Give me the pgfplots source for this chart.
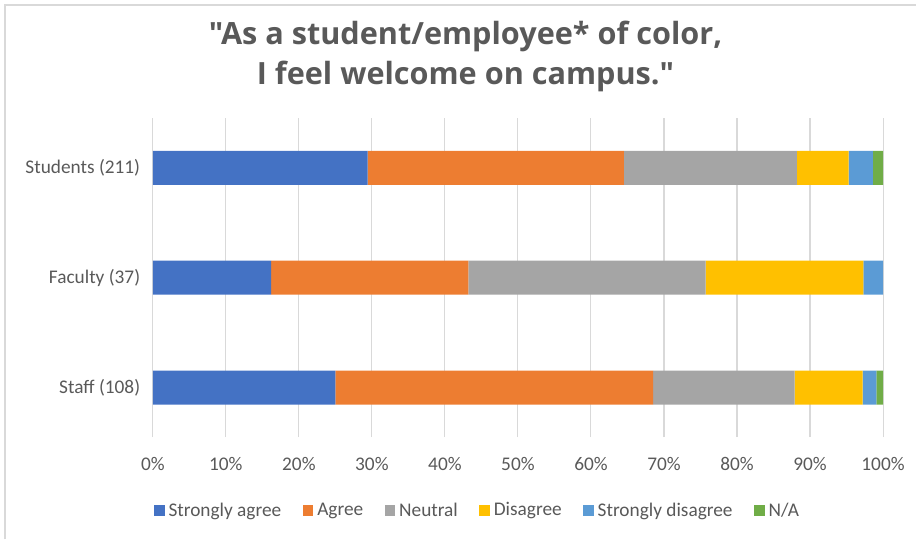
\documentclass[border=0pt]{standalone}
\usepackage{pgfplots}
\pgfplotsset{compat=1.18}
\usepackage{fontspec}
\setmainfont{Carlito}
\newfontfamily\titlefont{Open Sans}

\definecolor{sagree}{HTML}{4472C4}
\definecolor{agree}{HTML}{ED7D31}
\definecolor{neutral}{HTML}{A5A5A5}
\definecolor{disagree}{HTML}{FFC000}
\definecolor{sdisagree}{HTML}{5B9BD5}
\definecolor{na}{HTML}{70AD47}
\definecolor{txtgray}{HTML}{595959}
\definecolor{gridgray}{HTML}{D9D9D9}

\begin{document}
\begin{tikzpicture}[x=0.75pt,y=0.75pt]
\path (0,0) rectangle (917,540);
\draw[gridgray, line width=1.5pt] (5,0) -- (5,535) -- (917,535);
\node[font=\titlefont\bfseries\fontsize{23}{30}\selectfont, text=txtgray, align=center]
  at (466,483) {"As a student/employee* of color,\\I feel welcome on campus."};
\begin{axis}[
  at={(114.75pt,76.875pt)}, anchor=south west,
  scale only axis, width=548.25pt, height=239.25pt,
  xbar stacked, bar width=25.5pt,
  xmin=0, xmax=100, ymin=-0.45, ymax=2.45,
  xtick={0,10,...,100},
  xticklabel={\pgfmathprintnumber{\tick}\%},
  ytick={0,1,2},
  yticklabels={Staff (108), Faculty (37), Students (211)},
  xmajorgrids, grid style={gridgray, line width=0.8pt},
  axis line style={draw=none}, major tick style={draw=none},
  ticklabel style={font=\fontsize{14.5}{16}\selectfont, text=txtgray},
  /pgf/number format/assume math mode=true,
  xticklabel shift=12pt, yticklabel shift=6pt,
  legend columns=-1,
  legend style={at={(0.445,-0.23)}, anchor=center, draw=none,
    font=\fontsize{14.5}{16}\selectfont, text=txtgray,
    /tikz/every even column/.append style={column sep=14pt},
    /tikz/every odd column/.append style={column sep=1pt}},
  legend image code/.code={\fill[#1, draw=none] (0pt,-4pt) rectangle (8pt,4pt);},
  every axis plot/.append style={draw=none},
]
\addplot[fill=sagree] coordinates {(25.0,0) (16.2,1) (29.4,2)};
\addplot[fill=agree] coordinates {(43.5,0) (27.0,1) (35.1,2)};
\addplot[fill=neutral] coordinates {(19.4,0) (32.5,1) (23.7,2)};
\addplot[fill=disagree] coordinates {(9.3,0) (21.6,1) (7.1,2)};
\addplot[fill=sdisagree] coordinates {(1.9,0) (2.7,1) (3.3,2)};
\addplot[fill=na] coordinates {(0.9,0) (0,1) (1.4,2)};
\legend{Strongly agree, Agree, Neutral, Disagree, Strongly disagree, N/A}
\end{axis}
\end{tikzpicture}
\end{document}
